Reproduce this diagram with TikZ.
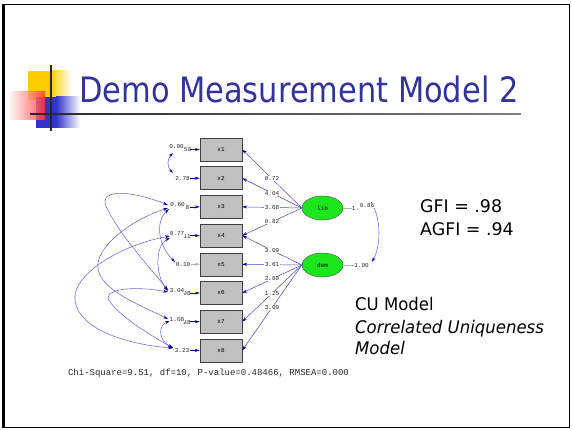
\documentclass[tikz,border=0pt]{standalone}
\usepackage{fontspec}
\usetikzlibrary{arrows.meta,shapes.geometric}
\newfontfamily\titlefont[FakeStretch=0.87]{DejaVu Sans}
\newfontfamily\bodyfont[FakeStretch=0.95]{DejaVu Sans}
\newfontfamily\plainfont{DejaVu Sans}
\newfontfamily\lisrel{Liberation Mono}

\definecolor{titleblue}{HTML}{333399}
\definecolor{pathblue}{HTML}{4848C8}
\definecolor{tipblue}{HTML}{000099}
\definecolor{curveblue}{HTML}{6A6AE0}
\definecolor{boxgray}{HTML}{C0C0C0}
\definecolor{latentgreen}{HTML}{1EE61E}
\definecolor{logoyellow}{HTML}{FFCC00}
\definecolor{logoblue}{HTML}{3333CC}
\definecolor{logored}{HTML}{FF3333}

\tikzset{
  obs/.style={draw=black!75, fill=boxgray, minimum width=42pt, minimum height=23pt,
    inner sep=0pt, font=\lisrel\fontsize{6}{6}\selectfont},
  latent/.style={ellipse, draw=black!70, fill=latentgreen, minimum width=41pt,
    minimum height=24pt, inner sep=0pt, font=\lisrel\fontsize{6}{6}\selectfont},
  tip/.style={-{Stealth[length=5pt,width=3pt,color=tipblue]}},
  load/.style={draw=pathblue, line width=0.5pt, tip},
  err/.style={draw=tipblue, line width=0.7pt, tip},
  fixed/.style={draw=black!30, line width=0.7pt},
  corr/.style={draw=curveblue, line width=0.55pt,
    {Stealth[length=5pt,width=3pt,color=tipblue]}-{Stealth[length=5pt,width=3pt,color=tipblue]}},
  val/.style={font=\lisrel\fontsize{6}{6}\selectfont, inner sep=0.4pt, fill=white, text=black!85},
  bare/.style={font=\lisrel\fontsize{6}{6}\selectfont, inner sep=0pt, text=black!85},
  slidetext/.style={anchor=base west, inner sep=0pt, font=\bodyfont\fontsize{17.4}{17.4}\selectfont},
}

\begin{document}
\begin{tikzpicture}[x=1pt,y=-1pt]
\useasboundingbox (0,0) rectangle (572,430);
\fill[white] (0,0) rectangle (572,430);

% slide frame
\draw[line width=1.5pt] (3.5,4.5) rectangle (569.5,427.5);
\draw[line width=3pt] (3.5,3.8) -- (3.5,428.2);

% title logo
\fill[logoyellow] (28,71) rectangle (50,100);
\shade[left color=logoyellow, right color=white] (50,71) rectangle (72,100);
\fill[logoblue] (36,97) rectangle (56,128);
\shade[left color=logoblue, right color=white] (56,97) rectangle (80,128);
\shade[left color=logored!6, right color=logored, opacity=0.82] (10,92) rectangle (45,120);
\shade[left color=black!85, right color=black!50] (30,113.3) rectangle (521,114.8);
\draw[line width=1.3pt, black!85] (51,65) -- (51,131);

% title
\node[anchor=base west, inner sep=0pt, text=titleblue,
  font=\titlefont\fontsize{35}{35}\selectfont] (title) at (79,103) {Demo Measurement Model 2};

% observed variables
\node[obs] (x1) at (221,149.5) {x1};
\node[obs] (x2) at (221,178.2) {x2};
\node[obs] (x3) at (221,206.9) {x3};
\node[obs] (x4) at (221,235.6) {x4};
\node[obs] (x5) at (221,264.3) {x5};
\node[obs] (x6) at (221,293.0) {x6};
\node[obs] (x7) at (221,321.7) {x7};
\node[obs] (x8) at (221,350.4) {x8};

% latent variables
\node[latent] (lib) at (322.5,208) {lib};
\node[latent] (dem) at (322.5,265) {dem};

% factor loadings
\draw[load] (lib.west) -- node[val]{0.72} (x1.east);
\draw[load] (lib.west) -- node[val]{4.04} (x2.east);
\draw[load] (lib.west) -- node[val]{3.08} (x3.east);
\draw[load] (lib.west) -- node[val]{0.82} (x4.east);
\draw[load] (dem.west) -- node[val]{3.09} (x4.east);
\draw[load] (dem.west) -- node[val]{3.61} (x5.east);
\draw[load] (dem.west) -- node[val]{2.80} (x6.east);
\draw[load] (dem.west) -- node[val]{1.25} (x7.east);
\draw[load] (dem.west) -- node[val]{3.09} (x8.east);

% error terms
\coordinate (d1) at (190,149.5);
\coordinate (d2) at (190,178.2);
\coordinate (d3) at (190,206.9);
\coordinate (d4) at (190,235.6);
\coordinate (d5) at (190,264.3);
\coordinate (d6) at (190,293.0);
\coordinate (d7) at (190,321.7);
\coordinate (d8) at (190,350.4);
\draw[err] (d1) -- (x1.west);
\draw[err] (d2) -- (x2.west);
\draw[err] (d3) -- (x3.west);
\draw[err] (d4) -- (x4.west);
\draw[fixed, -{Stealth[length=5pt,width=3pt,color=black!30]}] (d5) -- (x5.west);
\draw[err] (d6) -- (x6.west);
\draw[err] (d7) -- (x7.west);
\draw[err] (d8) -- (x8.west);

% correlated uniquenesses
\coordinate (k1) at (173,153);
\coordinate (k2) at (173,173);
\coordinate (a3) at (168,205);
\coordinate (b3) at (168,208);
\coordinate (s3) at (169,209);
\coordinate (a4) at (170,238);
\coordinate (b4) at (170,236);
\coordinate (a5) at (175,262);
\coordinate (a6) at (168,290);
\coordinate (b6) at (168,291);
\coordinate (c6) at (168,292);
\coordinate (a7) at (168,319);
\coordinate (b7) at (170,321);
\coordinate (a8) at (173,348);
\coordinate (w36) at (108,210);
\coordinate (w37) at (98,268);
\coordinate (w48) at (75,300);
\coordinate (w68) at (110,302);

\draw[corr] (k1) .. controls (167,159) and (167,167) .. (k2);
\draw[corr] (a3) .. controls (125,188) and (95,190) .. (w36)
                 .. controls (120,235) and (150,268) .. (a6);
\draw[corr] (b3) .. controls (130,220) and (95,248) .. (w37)
                 .. controls (100,290) and (140,305) .. (a7);
\draw[corr] (s3) .. controls (155,222) and (158,245) .. (a5);
\draw[corr] (a4) .. controls (155,245) and (155,275) .. (b6);
\draw[corr] (b4) .. controls (120,245) and (72,275) .. (w48)
                 .. controls (78,330) and (130,345) .. (a8);
\draw[corr] (c6) .. controls (130,285) and (100,290) .. (w68)
                 .. controls (122,318) and (150,335) .. (a8);
\draw[corr] (b7) .. controls (158,325) and (158,340) .. (a8);

% error variances and covariances
\node[bare] (v1) at (187.5,150) {50};
\node[val] (c12) at (176.5,147) {0.90};
\node[val] (v2) at (182.5,178.5) {2.78};
\node[bare] (v3) at (187.5,208) {8};
\node[val] (c3) at (177.5,205) {0.60};
\node[bare] (v4) at (187,237) {11};
\node[val] (c4) at (177,234) {0.77};
\node[val] (v5) at (183,265) {0.10};
\node[bare] (v6) at (187,293.5) {98};
\node[val] (c6l) at (177,291) {3.04};
\node[bare] (v7) at (187,322.5) {88};
\node[val] (c7) at (177,320) {1.08};
\node[val] (v8) at (182,351) {3.23};

% factor variances and correlation
\coordinate (f1) at (352,208);
\coordinate (f2) at (355,265);
\draw[fixed] (lib.east) -- (f1);
\draw[fixed] (dem.east) -- (f2);
\coordinate (r1) at (371,202);
\coordinate (r2) at (372,262);
\draw[corr] (r1) .. controls (381,220) and (381,245) .. (r2);
\node[bare] (fv1) at (355.5,209) {1.};
\node[val] (phi) at (367,205.5) {0.86};
\node[val] (fv2) at (361.5,265.5) {1.00};

% fit statistics
\node[font=\lisrel\fontsize{9}{9}\selectfont, inner sep=0pt, text=black!85] (fit)
  at (208.5,373) {Chi-Square=9.51, df=10, P-value=0.48466, RMSEA=0.000};

% slide text
\node[slidetext, font=\plainfont\fontsize{17.4}{17.4}\selectfont] (gfi) at (420,212.3) {GFI = .98};
\node[slidetext, font=\plainfont\fontsize{17.4}{17.4}\selectfont] (agfi) at (420,235.5) {AGFI = .94};
\node[slidetext] (cu) at (355,310.3) {CU Model};
\node[slidetext] (cu2) at (355,333) {\itshape Correlated Uniqueness};
\node[slidetext] (cu3) at (355,354.5) {\itshape Model};
\end{tikzpicture}
\end{document}
